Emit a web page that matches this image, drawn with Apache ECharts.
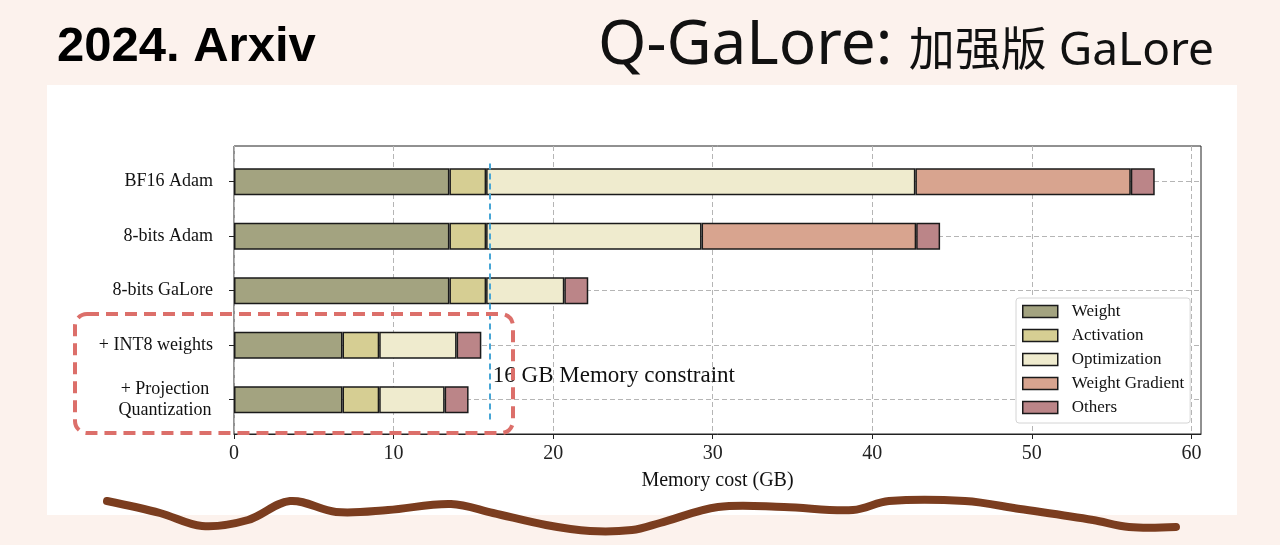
<!DOCTYPE html>
<html>
<head>
<meta charset="utf-8">
<title>Q-GaLore</title>
<script src="https://cdn.jsdelivr.net/npm/echarts@6/dist/echarts.min.js"></script>
<style>
 html, body { margin: 0; padding: 0; background: #fcf2ed; }
 #main { width: 1280px; height: 545px; }
</style>
</head>
<body>
<div id="main"></div>
<script>
/** 数据 **/
var categories = ['BF16 Adam', '8-bits Adam', '8-bits GaLore', '+ INT8 weights', '+ Projection\nQuantization'];
var seriesNames = ['Weight', 'Activation', 'Optimization', 'Weight Gradient', 'Others'];
var weight = [13.5, 13.5, 13.5, 6.8, 6.8];
var activation = [2.3, 2.3, 2.3, 2.3, 2.3];
var optimization = [26.9, 13.5, 4.9, 4.85, 4.1];
var weightGradient = [13.5, 13.45, 0, 0, 0];
var others = [1.5, 1.5, 1.5, 1.55, 1.5];
var xTicks = [0, 10, 20, 30, 40, 50, 60];
var memoryLimit = 16;
var limitText = '16 GB Memory constraint';

var colors = ['#a3a380', '#d6ce93', '#efebce', '#d8a48f', '#bb8588'];
var serif = '"Liberation Serif", "DejaVu Serif", serif';

/** 构造函数 **/
function Draw (elem) {
 this.chart = echarts.init(document.getElementById(elem));
}

/** 堆叠条形图 **/
Draw.prototype.stackBar = function() {
 var values = [weight, activation, optimization, weightGradient, others];
 var series = [];
 seriesNames.forEach(function(name, i) {
  series.push({
   name: name,
   type: 'bar',
   stack: 'mem',
   xAxisIndex: 1,
   yAxisIndex: 1,
   barWidth: 27,
   itemStyle: {
    color: colors[i],
    borderColor: '#1a1a1a',
    borderWidth: 1.5
   },
   data: values[i].map(function(v) { return v === 0 ? '-' : v; })
  })
 })

 // 16GB 虚线 + 文字
 series.push({
  name: 'limit',
  type: 'scatter',
  xAxisIndex: 0,
  yAxisIndex: 0,
  silent: true,
  data: [],
  markLine: {
   silent: true,
   symbol: 'none',
   label: { show: false },
   lineStyle: { color: '#46a5d6', width: 2, type: [6, 4] },
   data: [[{ coord: [memoryLimit, 0.05] }, { coord: [memoryLimit, 0.95] }]]
  },
  markPoint: {
   silent: true,
   symbol: 'circle',
   symbolSize: 1,
   itemStyle: { color: 'rgba(0,0,0,0)' },
   label: {
    show: true,
    position: 'right',
    distance: 3,
    formatter: limitText,
    fontFamily: serif,
    fontSize: 23,
    color: '#111'
   },
   data: [{ coord: [memoryLimit, 0.2] }]
  }
 })

 var option = {
  animation: false,
  backgroundColor: '#fcf2ed',
  grid: [
   { left: 234, right: 79, top: 146, bottom: 111, show: true, borderColor: '#222', borderWidth: 1, backgroundColor: 'rgba(0,0,0,0)' },
   { left: 234, right: 79, top: 181.7, bottom: 145.3 }
  ],
  legend: {
   data: seriesNames,
   orient: 'vertical',
   left: 1016,
   top: 298,
   selectedMode: false,
   icon: 'rect',
   itemWidth: 35,
   itemHeight: 12,
   itemGap: 7,
   padding: [5, 6, 7, 6],
   backgroundColor: '#fff',
   borderColor: '#d4d4d4',
   borderWidth: 1,
   borderRadius: 3,
   itemStyle: { borderColor: '#1a1a1a', borderWidth: 1.5 },
   textStyle: { fontFamily: serif, fontSize: 17, color: '#111', lineHeight: 17, padding: [0, 0, 0, 9] }
  },
  xAxis: [
   {
    type: 'value',
    gridIndex: 0,
    min: 0,
    max: 60.6,
    interval: 10,
    name: 'Memory cost (GB)',
    nameLocation: 'middle',
    nameGap: 37,
    nameTextStyle: { fontFamily: serif, fontSize: 20, color: '#111' },
    axisLine: { show: true, lineStyle: { color: '#222', width: 1 } },
    axisTick: { show: true, length: 5, customValues: xTicks, lineStyle: { color: '#222' } },
    axisLabel: { margin: 10, customValues: xTicks, fontFamily: serif, fontSize: 20, color: '#222' },
    splitLine: { show: true, lineStyle: { color: '#b5b5b5', type: [5, 3] } }
   },
   { type: 'value', gridIndex: 1, min: 0, max: 60.6, show: false }
  ],
  yAxis: [
   { type: 'value', gridIndex: 0, min: 0, max: 1, show: false },
   {
    type: 'category',
    gridIndex: 1,
    data: categories,
    inverse: true,
    boundaryGap: false,
    axisLine: { show: false },
    axisTick: { show: true, length: 5, interval: 0, lineStyle: { color: '#222' } },
    axisLabel: {
     interval: 0,
     margin: 21,
     fontFamily: serif,
     fontSize: 18,
     color: '#111',
     formatter: function(v) { return v.indexOf('\n') > -1 ? '{c|' + v + '}' : v; },
     rich: { c: { align: 'center', width: 96, lineHeight: 21, fontFamily: serif, fontSize: 18, color: '#111' } }
    },
    splitLine: { show: true, interval: 0, lineStyle: { color: '#b5b5b5', type: [5, 3] } }
   }
  ],
  graphic: [
   { type: 'rect', z: -10, silent: true, shape: { x: 47, y: 85, width: 1190, height: 430 }, style: { fill: '#fff' } },
   { type: 'text', x: 57, y: 47, silent: true, style: { text: '2024. Arxiv', font: 'bold 49px "Liberation Sans"', fill: '#000', textAlign: 'left', textVerticalAlign: 'middle' } },
   { type: 'text', x: 598, y: 46, silent: true, style: { text: 'Q-GaLore:', font: '62px "Noto Sans", "Noto Sans CJK SC"', fill: '#111', textAlign: 'left', textVerticalAlign: 'middle' } },
   { type: 'text', x: 1214, y: 52, silent: true, style: { text: '加强版 GaLore', font: '46px "Noto Sans", "Noto Sans CJK SC"', fill: '#111', textAlign: 'right', textVerticalAlign: 'middle' } },
   // 红色虚线框
   { type: 'rect', z: 50, silent: true, shape: { x: 75, y: 314, width: 438, height: 119, r: 12 }, style: { fill: 'none', stroke: '#dc6f6a', lineWidth: 4, lineDash: [12, 7] } },
   // 底部手绘波浪线
   {
    type: 'polyline', z: 50, silent: true,
    shape: {
     smooth: 0.35,
     points: [[107, 501], [160, 513], [202, 526], [248, 520], [290, 501], [336, 512], [388, 510], [451, 504], [493, 513],
      [546, 525], [590, 531], [632, 530], [660, 523], [718, 507], [784, 507], [853, 510], [889, 501], [965, 501],
      [1020, 509], [1093, 520], [1129, 527], [1176, 527]]
    },
    style: { stroke: '#7b3d1f', lineWidth: 8, lineCap: 'round', lineJoin: 'round', fill: 'none' }
   }
  ],
  series: series
 }
 this.chart.setOption(option);
}

new Draw('main').stackBar();
</script>
</body>
</html>
